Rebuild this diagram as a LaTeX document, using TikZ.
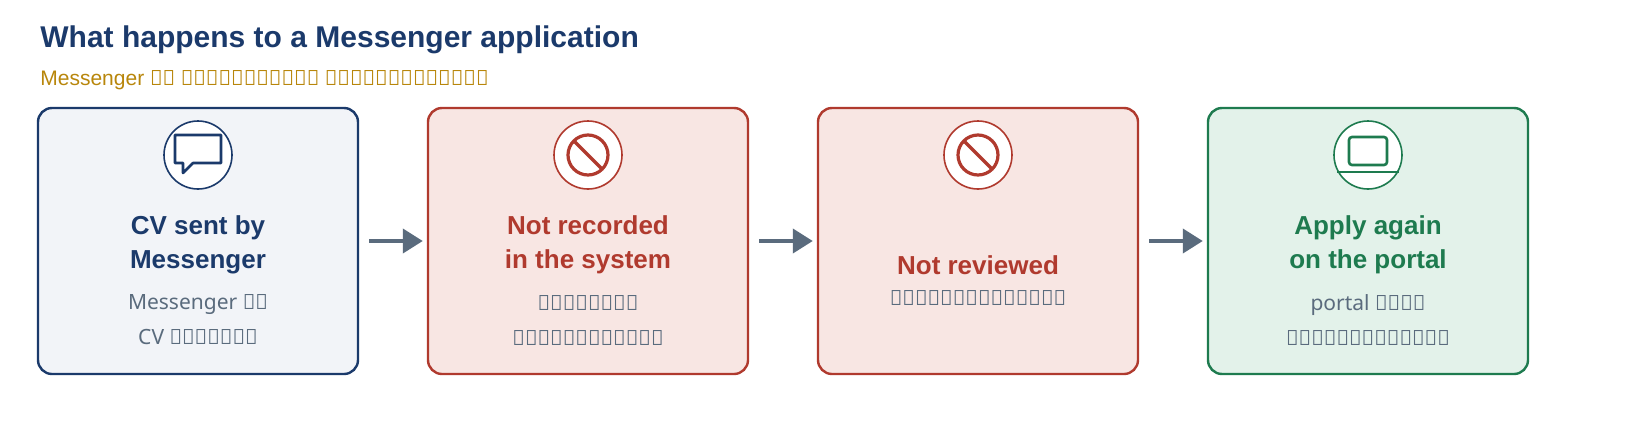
\documentclass[tikz,border=0pt]{standalone}
\usepackage{fontspec}
\setmainfont{Liberation Sans}
\newfontfamily\mm{Noto Sans}
\usepackage{tikz}
\usetikzlibrary{positioning,arrows.meta,calc}
\definecolor{navy}{HTML}{1B3A6B}
\definecolor{rust}{HTML}{B03A2E}
\definecolor{forest}{HTML}{1E7B4F}
\definecolor{gold}{HTML}{B8860B}
\definecolor{slate}{HTML}{5A6B7D}
\definecolor{palenavy}{HTML}{F2F4F8}
\definecolor{palerust}{HTML}{F8E6E3}
\definecolor{paleforest}{HTML}{E3F2EA}
\tikzset{
  stage/.style={rectangle, rounded corners=7pt, line width=1.2pt, minimum width=160pt, minimum height=133pt},
  badge/.style={circle, line width=0.8pt, fill=white, minimum size=34pt},
  title/.style={align=center, font=\bfseries\fontsize{13}{17}\selectfont},
  sub/.style={align=center, text=slate, font=\fontsize{10.5}{17.5}\selectfont\mm},
  flow/.style={-{Triangle[length=10pt,width=12pt]}, line width=2pt, slate}
}
\begin{document}
\begin{tikzpicture}[x=0.5pt,y=-0.5pt]
\useasboundingbox (0,0) rectangle (1640,440);
\node[anchor=west, inner sep=0pt, text=navy, font=\bfseries\fontsize{15}{18}\selectfont] (head) at (40,40) {What happens to a Messenger application};
\node[anchor=west, inner sep=0pt, text=gold, font=\fontsize{10.5}{12}\selectfont] (subhead) at (40,80) {Messenger {\mm မှ လျှောက်လွှာ ဘာဖြစ်သွားသလဲ}};
% steps
\node[stage, draw=navy, fill=palenavy] (sent) at (198,241) {};
\node[stage, draw=rust, fill=palerust] (norec) at (588,241) {};
\node[stage, draw=rust, fill=palerust] (norev) at (978,241) {};
\node[stage, draw=forest, fill=paleforest] (again) at (1368,241) {};
% badges
\node[badge, draw=navy] (ic1) at (198,155) {};
\node[badge, draw=rust] (ic2) at (588,155) {};
\node[badge, draw=rust] (ic3) at (978,155) {};
\node[badge, draw=forest] (ic4) at (1368,155) {};
\draw[navy, line width=1.3pt, line join=round] (175,135) -- (221,135) -- (221,163) -- (193,163) -- (183,173) -- (183,163) -- (175,163) -- cycle;
\foreach \c in {ic2,ic3}{
  \draw[rust, line width=1.6pt] (\c) circle (10pt);
  \draw[rust, line width=1.6pt] ($(\c)+(-14,-14)$) -- ($(\c)+(14,14)$);
}
\draw[forest, line width=1.3pt, rounded corners=1.5pt] (1349,137) rectangle (1387,165);
\draw[forest, line width=1.3pt] (1337,172) -- (1399,172);
% texts
\node[title, text=navy] (t1) at (198,245) {CV sent by\\Messenger};
\node[sub] (s1) at (198,320) {Messenger {\mm မှ}\\CV {\mm ပို့သည်}};
\node[title, text=rust] (t2) at (588,245) {Not recorded\\in the system};
\node[sub] (s2) at (588,320) {\mm စနစ်တွင်\\\mm မှတ်တမ်းမရှိ};
\node[title, text=rust] (t3) at (978,265) {Not reviewed};
\node[sub] (s3) at (978,298) {\mm စိစစ်ခြင်းမရှိ};
\node[title, text=forest] (t4) at (1368,245) {Apply again\\on the portal};
\node[sub] (s4) at (1368,320) {portal {\mm တွင်}\\\mm ပြန်လျှောက်ပါ};
% arrows
\draw[flow] ($(sent.east)+(10,0)$) -- ($(norec.west)+(-4,0)$);
\draw[flow] ($(norec.east)+(10,0)$) -- ($(norev.west)+(-4,0)$);
\draw[flow] ($(norev.east)+(10,0)$) -- ($(again.west)+(-4,0)$);
\end{tikzpicture}
\end{document}
